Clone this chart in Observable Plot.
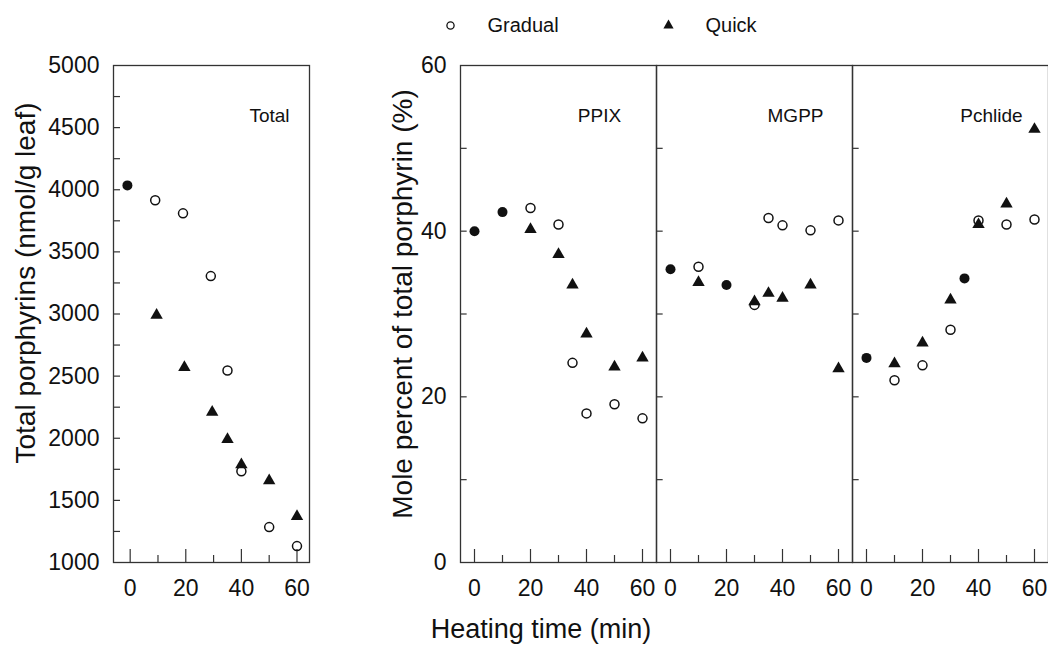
<!DOCTYPE html>
<html>
<head>
<meta charset="utf-8">
<script src="https://cdn.jsdelivr.net/npm/d3@7"></script>
<script src="https://cdn.jsdelivr.net/npm/@observablehq/plot@0.6"></script>
<style>
  html, body { margin: 0; padding: 0; background: #fff; overflow: hidden; }
  #chart { position: relative; width: 1048px; height: 654px; font-family: "Liberation Sans", Arial, sans-serif; color: #111; }
  #chart > * { position: absolute; }
  #xtitle { left: 0; width: 1082px; top: 616px; text-align: center; font-size: 27px; line-height: 1; }
</style>
</head>
<body>
<div id="chart"><div id="xtitle">Heating time (min)</div></div>
<script>
// ---------------- data ----------------
const legendLabels = ["Gradual", "Quick"];
const panels = ["PPIX", "MGPP", "Pchlide"];

// Total porphyrins (nmol/g leaf)
const totalBothT = [-1];
const totalBothV = [4035];
const totalGradualT = [9, 19, 29, 35, 40, 50, 60];
const totalGradualV = [3915, 3810, 3305, 2545, 1735, 1285, 1132];
const totalQuickT = [9.5, 19.5, 29.5, 35, 40, 50, 60];
const totalQuickV = [2990, 2570, 2210, 1990, 1787, 1658, 1370];

// Mole percent of total porphyrin (%)
const ppixBothT = [0, 10];
const ppixBothV = [40.0, 42.3];
const ppixGradualT = [20, 30, 35, 40, 50, 60];
const ppixGradualV = [42.8, 40.8, 24.1, 18.0, 19.1, 17.4];
const ppixQuickT = [20, 30, 35, 40, 50, 60];
const ppixQuickV = [40.2, 37.2, 33.5, 27.6, 23.6, 24.7];

const mgppBothT = [0, 20];
const mgppBothV = [35.4, 33.5];
const mgppGradualT = [10, 30, 35, 40, 50, 60];
const mgppGradualV = [35.7, 31.1, 41.6, 40.7, 40.1, 41.3];
const mgppQuickT = [10, 30, 35, 40, 50, 60];
const mgppQuickV = [33.8, 31.5, 32.5, 31.9, 33.5, 23.4];

const pchlBothT = [0, 35];
const pchlBothV = [24.7, 34.3];
const pchlGradualT = [10, 20, 30, 40, 50, 60];
const pchlGradualV = [22.0, 23.8, 28.1, 41.3, 40.8, 41.4];
const pchlQuickT = [10, 20, 30, 40, 50, 60];
const pchlQuickV = [24.0, 26.5, 31.7, 40.8, 43.3, 52.3];

// ticks
const totalTickLabels = [1000, 1500, 2000, 2500, 3000, 3500, 4000, 4500, 5000];
const totalTickMarks = [1250, 1500, 1750, 2000, 2250, 2500, 2750, 3000, 3250, 3500, 3750, 4000, 4250, 4500, 4750];
const pctTickLabels = [0, 20, 40, 60];
const pctTickMarks = [10, 20, 30, 40, 50];
const timeTickLabels = [0, 20, 40, 60];
const timeTickMinor = [10, 30, 50];

const leftTitle = "Total porphyrins (nmol/g leaf)";
const rightTitle = "Mole percent of total porphyrin (%)";

// ---------------- tables ----------------
const rows = (panel, series, T, V) => T.map((t, i) => ({panel, series, t, v: V[i]}));
const total = [
  ...rows("Total", "Gradual", totalGradualT, totalGradualV),
  ...rows("Total", "Quick", totalQuickT, totalQuickV),
  ...rows("Total", "Both", totalBothT, totalBothV)
];
const pct = [
  ...rows("PPIX", "Gradual", ppixGradualT, ppixGradualV),
  ...rows("PPIX", "Quick", ppixQuickT, ppixQuickV),
  ...rows("PPIX", "Both", ppixBothT, ppixBothV),
  ...rows("MGPP", "Gradual", mgppGradualT, mgppGradualV),
  ...rows("MGPP", "Quick", mgppQuickT, mgppQuickV),
  ...rows("MGPP", "Both", mgppBothT, mgppBothV),
  ...rows("Pchlide", "Gradual", pchlGradualT, pchlGradualV),
  ...rows("Pchlide", "Quick", pchlQuickT, pchlQuickV),
  ...rows("Pchlide", "Both", pchlBothT, pchlBothV)
];

// ---------------- styles ----------------
const ink = "#111";
const frameInk = "#333";
const font = "Liberation Sans, Arial, sans-serif";
const H = 610, MT = 65, MB = 48;
const innerH = H - MT - MB;

const dotMarks = (data, extra = {}) => [
  Plot.dot(data.filter(d => d.series === "Gradual"), {...extra, x: "t", y: "v", r: 4.5, stroke: ink, strokeWidth: 1.5, fill: "none"}),
  Plot.dot(data.filter(d => d.series === "Quick"), {...extra, x: "t", y: "v", symbol: "triangle", r: 4.6, fill: ink, stroke: "none"}),
  Plot.dot(data.filter(d => d.series === "Both"), {...extra, x: "t", y: "v", r: 5, fill: ink, stroke: "none"})
];

// ---------------- left plot ----------------
const LW = 330, LML = 113, LMR = 21;
const lInnerW = LW - LML - LMR;
const left = Plot.plot({
  width: LW, height: H,
  marginLeft: LML, marginRight: LMR, marginTop: MT, marginBottom: MB,
  style: {fontFamily: font, fontSize: "23px", color: ink, background: "transparent", overflow: "visible"},
  x: {domain: [-6, 64.5], axis: null},
  y: {domain: [1000, 5000], axis: null},
  marks: [
    Plot.frame({stroke: frameInk, strokeWidth: 1.3}),
    Plot.tickY(totalTickMarks, {y: d => d, insetRight: lInnerW - 7, stroke: frameInk, strokeWidth: 1.2}),
    Plot.tickX(timeTickLabels, {x: d => d, insetTop: innerH - 13, stroke: frameInk, strokeWidth: 1.2}),
    Plot.tickX(timeTickMinor, {x: d => d, insetTop: innerH - 7, stroke: frameInk, strokeWidth: 1.2}),
    Plot.axisY({ticks: totalTickLabels, tickSize: 0, tickPadding: 14, label: null, tickFormat: d => String(d)}),
    Plot.axisX({ticks: timeTickLabels, tickSize: 0, tickPadding: 17, label: null}),
    Plot.text([leftTitle], {text: d => d, frameAnchor: "left", textAnchor: "middle", rotate: -90, dx: -87, dy: -31, fontSize: 28, fill: ink}),
    Plot.text(["Total"], {text: d => d, frameAnchor: "top-right", textAnchor: "middle", dx: -40, dy: 43, fontSize: 19, fill: ink}),
    ...dotMarks(total)
  ]
});
left.style.left = "0px";
left.style.top = "0px";

// ---------------- right plot ----------------
const RX = 340, RW = 708, RML = 119, RMR = 0;
const facetW = (RW - RML - RMR) / panels.length;
const right = Plot.plot({
  width: RW, height: H,
  marginLeft: RML, marginRight: RMR, marginTop: MT, marginBottom: MB,
  style: {fontFamily: font, fontSize: "23px", color: ink, background: "transparent", overflow: "visible"},
  fx: {domain: panels, padding: 0, axis: null},
  x: {domain: [-5, 65], axis: null},
  y: {domain: [0, 60], axis: null},
  marks: [
    Plot.frame({stroke: frameInk, strokeWidth: 1.3}),
    Plot.tickY(pctTickMarks, {y: d => d, insetRight: facetW - 7, stroke: frameInk, strokeWidth: 1.2}),
    Plot.tickX(timeTickLabels, {x: d => d, insetTop: innerH - 13, stroke: frameInk, strokeWidth: 1.2}),
    Plot.tickX(timeTickMinor, {x: d => d, insetTop: innerH - 7, stroke: frameInk, strokeWidth: 1.2}),
    Plot.axisY({ticks: pctTickLabels, tickSize: 0, tickPadding: 14, label: null, facetAnchor: "left"}),
    Plot.axisX({ticks: timeTickLabels, tickSize: 0, tickPadding: 17, label: null, facetAnchor: "bottom"}),
    Plot.text([rightTitle], {fx: () => panels[0], text: d => d, frameAnchor: "left", textAnchor: "middle", rotate: -90, dx: -57, dy: -10, fontSize: 28, fill: ink}),
    Plot.text(panels, {fx: d => d, text: d => d, frameAnchor: "top", dx: 41, dy: 43, fontSize: 19, fill: ink}),
    ...dotMarks(pct, {fx: "panel"})
  ]
});
right.style.left = RX + "px";
right.style.top = "0px";

// ---------------- legend ----------------
const legend = Plot.plot({
  width: 1048, height: 50, margin: 0,
  style: {fontFamily: font, fontSize: "20px", color: ink, background: "transparent", overflow: "visible"},
  x: {type: "point", domain: legendLabels, range: [450, 668], padding: 0, axis: null},
  marks: [
    Plot.dot([legendLabels[0]], {x: d => d, frameAnchor: "middle", r: 3.6, stroke: ink, strokeWidth: 1.3, fill: "none"}),
    Plot.dot([legendLabels[1]], {x: d => d, frameAnchor: "middle", symbol: "triangle", r: 3.8, fill: ink, stroke: "none"}),
    Plot.text(legendLabels, {x: d => d, text: d => d, frameAnchor: "middle", dx: 37, textAnchor: "start", fill: ink})
  ]
});
legend.style.left = "0px";
legend.style.top = "0px";

const chart = document.getElementById("chart");
chart.appendChild(left);
chart.appendChild(right);
chart.appendChild(legend);
</script>
</body>
</html>
